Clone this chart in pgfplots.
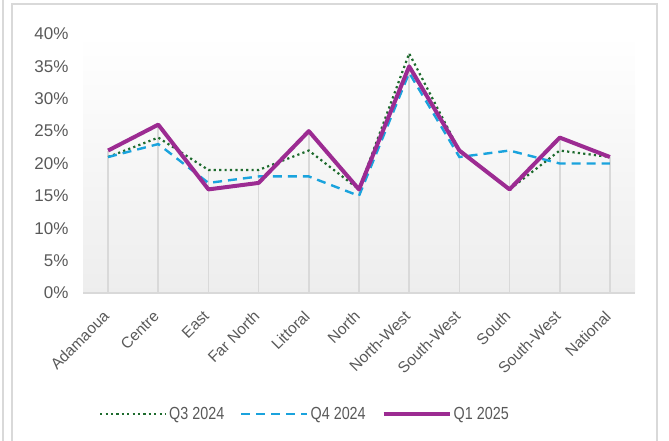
\documentclass[border=0pt]{standalone}
\usepackage{pgfplots}
\pgfplotsset{compat=1.18}
\usepackage{fontspec}
\setmainfont{Liberation Sans}
\newfontfamily\narrowfont[FakeStretch=0.82]{Liberation Sans}
\definecolor{txt}{HTML}{595959}
\definecolor{qthree}{HTML}{1E6B2E}
\definecolor{qfour}{HTML}{1AA3DD}
\definecolor{qone}{HTML}{9C2B92}
\definecolor{bord}{HTML}{D9D9D9}
\pgfplotstableread{
x Q3 Q4 Q1
0 21 21 22
1 24 23 26
2 19 17 16
3 19 18 17
4 22 18 25
5 16 15 16
6 37 34 35
7 22 21 22
8 16 22 16
9 22 20 24
10 21 20 21
}\datatable
\begin{document}
\begin{tikzpicture}
\useasboundingbox (0pt,0pt) rectangle (669pt,441pt);
\draw[bord, line width=1.5pt] (12pt,-5pt) -- (12pt,437pt) -- (657pt,437pt) -- (657pt,-5pt);
\draw[bord, line width=1.5pt] (3pt,-5pt) -- (3pt,441pt);
\begin{axis}[
  at={(83pt,148pt)}, anchor=south west,
  scale only axis, width=552pt, height=259pt,
  xmin=-0.5, xmax=10.5, ymin=0, ymax=40,
  axis background/.style={shade, top color=white, bottom color=black!7},
  axis x line*=bottom, axis y line*=left,
  x axis line style={bord, line width=1.5pt},
  y axis line style={draw=none},
  major tick length=0pt,
  xtick={0,...,10},
  xticklabels={Adamaoua,Centre,East,Far North,Littoral,North,North-West,South-West,South,South-West,National},
  xticklabel style={xshift=-6pt, yshift=-15pt, rotate=45, anchor=north east, font=\fontsize{15.5}{17}\selectfont, text=txt, inner sep=1pt},
  ytick={0,5,...,40},
  yticklabel={\pgfmathprintnumber{\tick}\%},
  /pgf/number format/assume math mode=true,
  yticklabel style={font=\fontsize{17}{19}\selectfont, text=txt, xshift=-11pt},
  legend columns=3,
  legend style={at={(0.402,-0.467)}, anchor=center, draw=none, fill=none,
    font=\narrowfont\fontsize{17.5}{19}\selectfont, text=txt,
    /tikz/every even column/.append style={column sep=14pt}},
  legend cell align=left,
  legend image code/.code={\draw[#1] (0pt,0pt) -- (66pt,0pt);},
  clip=false,
]
\addplot[ycomb, draw=bord, line width=1.6pt, forget plot] table[x=x,y=Q1]{\datatable};
\addplot[ycomb, draw=bord, line width=1.6pt, forget plot] table[x=x,y=Q3]{\datatable};
\addplot[ycomb, draw=bord, line width=1.6pt, forget plot] table[x=x,y=Q4]{\datatable};
\addplot[qthree, line width=2.2pt, dash pattern=on 2.2pt off 3.2pt, mark=none] table[x=x,y=Q3]{\datatable};
\addlegendentry{Q3 2024}
\addplot[qfour, line width=2.4pt, dash pattern=on 9pt off 6pt, mark=none] table[x=x,y=Q4]{\datatable};
\addlegendentry{Q4 2024}
\addplot[qone, line width=4pt, line join=round, mark=none] table[x=x,y=Q1]{\datatable};
\addlegendentry{Q1 2025}
\end{axis}
\end{tikzpicture}
\end{document}
